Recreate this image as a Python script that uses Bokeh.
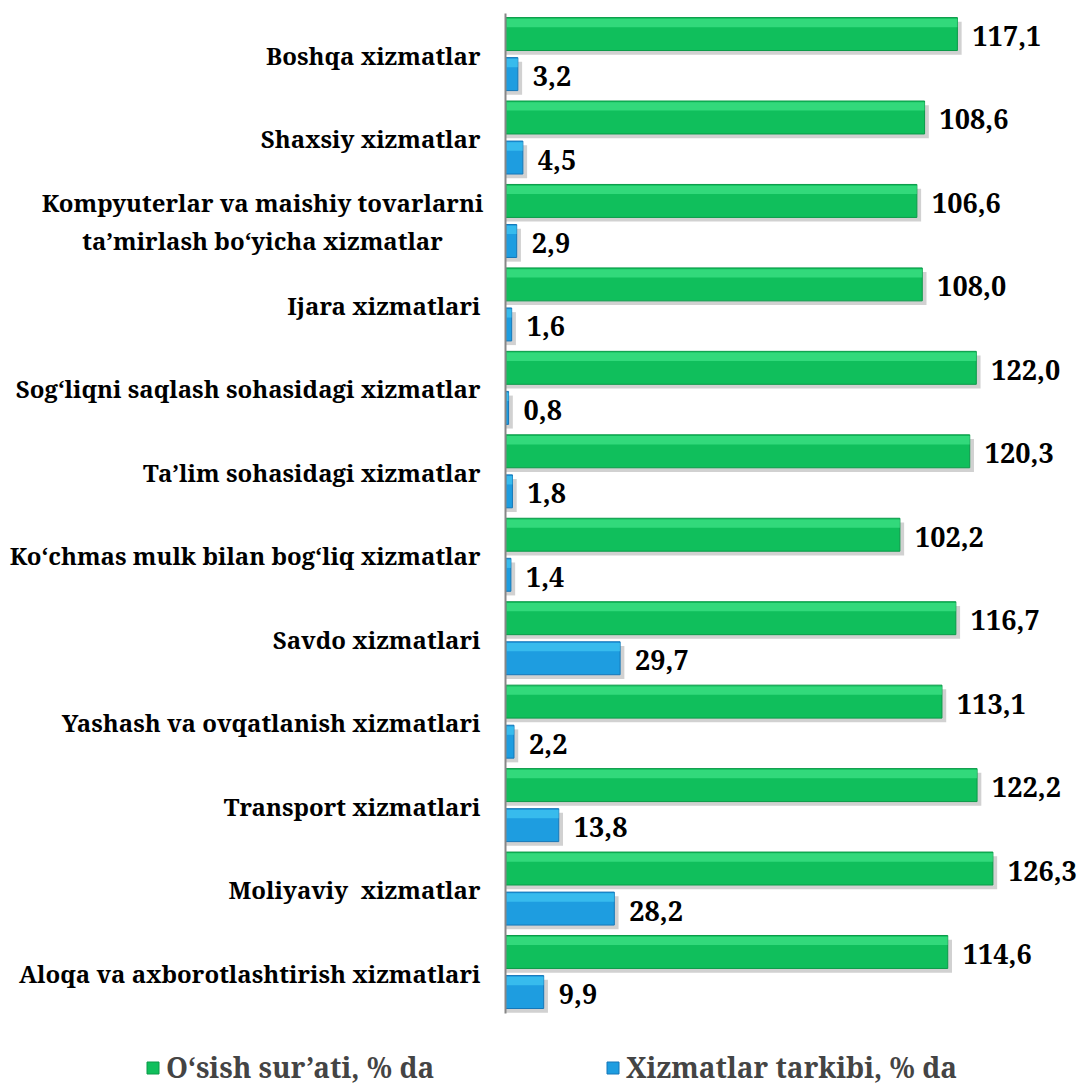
from bokeh.plotting import figure
from bokeh.models import ColumnDataSource, Legend, LegendItem, Range1d
from bokeh.transform import dodge
from bokeh.core.properties import value
from bokeh.embed import file_html
from bokeh.resources import INLINE

# ---- data (bottom to top) ----
categories = [
    "Aloqa va axborotlashtirish xizmatlari",
    "Moliyaviy\u00a0 xizmatlar",
    "Transport xizmatlari",
    "Yashash va ovqatlanish xizmatlari",
    "Savdo xizmatlari",
    "Ko\u2018chmas mulk bilan bog\u2018liq xizmatlar",
    "Ta\u2019lim sohasidagi xizmatlar",
    "Sog\u2018liqni saqlash sohasidagi xizmatlar",
    "Ijara xizmatlari",
    "Kompyuterlar va maishiy tovarlarni\nta\u2019mirlash bo\u2018yicha xizmatlar",
    "Shaxsiy xizmatlar",
    "Boshqa xizmatlar",
]
growth = [114.6, 126.3, 122.2, 113.1, 116.7, 102.2, 120.3, 122.0, 108.0, 106.6, 108.6, 117.1]
share = [9.9, 28.2, 13.8, 2.2, 29.7, 1.4, 1.8, 0.8, 1.6, 2.9, 4.5, 3.2]
series_names = ["O\u2018sish sur\u2019ati, % da", "Xizmatlar tarkibi, % da"]


def fmt(v):
    return f"{v:.1f}".replace(".", ",")


FONT = value("Noto Serif")
idx = list(range(len(categories)))

src = ColumnDataSource(dict(
    y=idx,
    cat=categories,
    growth=growth,
    share=share,
    g_lbl=[fmt(v) for v in growth],
    s_lbl=[fmt(v) for v in share],
    g_sh=[v + 1.1 for v in growth],
    s_sh=[v + 1.1 for v in share],
))

single = [i for i, c in enumerate(categories) if "\n" not in c]
multi = [i for i, c in enumerate(categories) if "\n" in c]
src_single = ColumnDataSource(dict(y=[idx[i] for i in single], cat=[categories[i] for i in single]))
src_multi = ColumnDataSource(dict(y=[idx[i] for i in multi], cat=[categories[i] for i in multi]))

p = figure(
    width=1080, height=1088,
    x_range=Range1d(-130.86, 149.0),
    y_range=Range1d(-1.396, 11.642),
    output_backend="svg", toolbar_location=None,
    min_border=0, x_axis_location=None, y_axis_location=None,
)
p.outline_line_color = None
p.grid.grid_line_color = None
p.background_fill_color = "white"

H = 0.395
OFF = 0.24
SH = 0.05

# shadows
p.hbar(y=dodge("y", OFF - SH), left=0, right="g_sh", height=H, source=src,
       fill_color="#c6c6c6", fill_alpha=0.8, line_color=None)
p.hbar(y=dodge("y", -OFF - SH), left=0, right="s_sh", height=H, source=src,
       fill_color="#c6c6c6", fill_alpha=0.8, line_color=None)

# main bars
g_bar = p.hbar(y=dodge("y", OFF), left=0, right="growth", height=H, source=src,
               fill_color="#10BF5C", line_color="#0A9A48", line_width=1)
b_bar = p.hbar(y=dodge("y", -OFF), left=0, right="share", height=H, source=src,
               fill_color="#1E9DE0", line_color="#1577B8", line_width=1)

# highlights (top strip)
p.hbar(y=dodge("y", OFF + H / 2 - 0.065), left=0.3, right="growth", height=0.1, source=src,
       fill_color="#4FEF95", fill_alpha=0.55, line_color=None)
p.hbar(y=dodge("y", -OFF + H / 2 - 0.065), left=0.3, right="share", height=0.1, source=src,
       fill_color="#4CD3F7", fill_alpha=0.55, line_color=None)

# axis line
p.segment(x0=[0], y0=[-0.497], x1=[0], y1=[11.486], line_color="#878787", line_width=2)

# value labels
p.text(x="growth", y=dodge("y", OFF), text="g_lbl", source=src, x_offset=15, y_offset=2,
       text_baseline="middle", text_align="left", text_font=FONT,
       text_font_style="bold", text_font_size="27px", text_color="black")
p.text(x="share", y=dodge("y", -OFF), text="s_lbl", source=src, x_offset=15, y_offset=2,
       text_baseline="middle", text_align="left", text_font=FONT,
       text_font_style="bold", text_font_size="27px", text_color="black")

# category labels
p.text(x=0, y="y", text="cat", source=src_single, x_offset=-25, y_offset=1,
       text_baseline="middle", text_align="right", text_font=FONT,
       text_font_style="bold", text_font_size="24px", text_color="black")
p.text(x=0, y="y", text="cat", source=src_multi, x_offset=-243, y_offset=1,
       text_baseline="middle", text_align="center", text_font=FONT,
       text_font_style="bold", text_font_size="24px", text_color="black",
       text_line_height=1.15)


def make_legend(label, renderer, x):
    return Legend(
        items=[LegendItem(label=label, renderers=[renderer])],
        orientation="horizontal", location=(x, 2),
        glyph_width=15, glyph_height=15, label_standoff=6,
        padding=0, margin=0, border_line_color=None, background_fill_alpha=0,
        label_text_font="Noto Serif", label_text_font_style="bold",
        label_text_font_size="28px",
    )


p.add_layout(make_legend(series_names[0], g_bar, 145))
p.add_layout(make_legend(series_names[1], b_bar, 605))

open("out.html", "w").write(file_html(p, INLINE))
